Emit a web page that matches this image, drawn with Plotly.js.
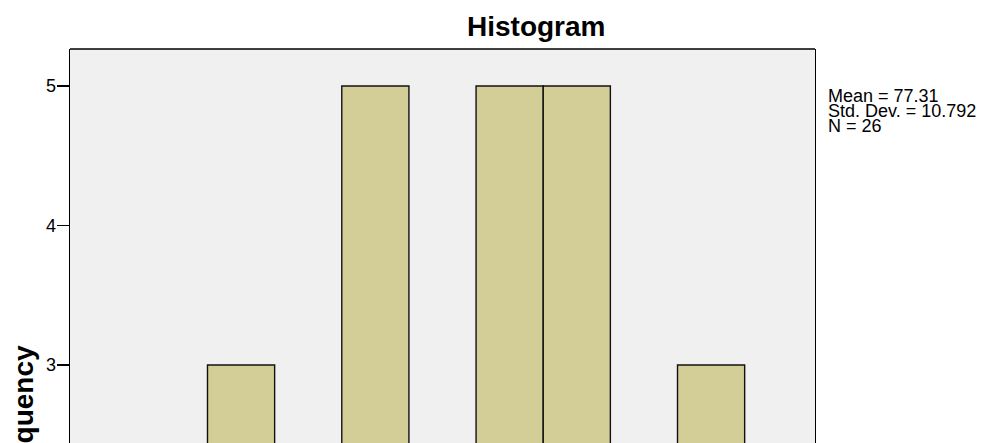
<!DOCTYPE html>
<html>
<head>
<meta charset="utf-8">
<script src="https://cdn.plot.ly/plotly-3.0.1.min.js"></script>
<style>html,body{margin:0;padding:0;background:#fff;overflow:hidden;}</style>
</head>
<body>
<div id="chart" style="width:990px;height:443px;"></div>
<script>
// Bin centers (bin width 5) and frequencies
const binCenters = [52.5, 57.5, 62.5, 67.5, 72.5, 77.5, 82.5, 87.5, 92.5, 97.5, 102.5];
const frequencies = [1, 1, 3, 2, 5, 1, 5, 5, 0, 3, 0];
const binWidth = 5;
const yTickVals = [0, 1, 2, 3, 4, 5];
const statsLines = ["Mean = 77.31", "Std. Dev. = 10.792", "N = 26"];
const chartTitle = "Histogram";
const yTitle = "Frequency";

const FONT = "Arial, 'Liberation Sans', sans-serif";
const L = 70, R = 175, T = 49, B = 0, W = 990, H = 443;
const plotW = W - L - R, plotH = H - T - B;
const px2paperX = p => (p - L) / plotW;
const px2paperY = p => (H - B - p) / plotH;

const trace = {
  type: 'bar',
  x: binCenters,
  y: frequencies,
  width: binCenters.map(() => binWidth),
  marker: { color: '#D3CE97', line: { color: '#111111', width: 1.4 } },
  hoverinfo: 'x+y'
};

const annotations = [
  { text: chartTitle, xref: 'paper', yref: 'paper', x: px2paperX(536), y: px2paperY(27),
    xanchor: 'center', yanchor: 'middle', showarrow: false,
    font: { family: FONT, size: 28, color: '#000', weight: 'bold' } },
  { text: yTitle, xref: 'paper', yref: 'paper', x: px2paperX(23), y: px2paperY(416),
    xanchor: 'center', yanchor: 'middle', textangle: -90, showarrow: false,
    font: { family: FONT, size: 28, color: '#000', weight: 'bold' } }
];
const centers = [96, 111, 126];
statsLines.forEach((t, i) => {
  annotations.push({ text: t, xref: 'paper', yref: 'paper', x: px2paperX(826), y: px2paperY(centers[i]),
    xanchor: 'left', yanchor: 'middle', showarrow: false,
    font: { family: FONT, size: 18, color: '#000' } });
});

const layout = {
  width: W, height: H,
  margin: { l: L, r: R, t: T, b: B, pad: 0 },
  paper_bgcolor: '#ffffff',
  plot_bgcolor: '#f0f0f0',
  bargap: 0,
  showlegend: false,
  xaxis: { range: [49.762, 105.238], showgrid: false, zeroline: false, showline: false,
    showticklabels: false, ticks: '' },
  yaxis: { range: [2.441, 5.265], tickvals: yTickVals, ticktext: yTickVals.map(String),
    showgrid: false, zeroline: false, showline: true, mirror: true, linecolor: '#000', linewidth: 1.4,
    ticks: 'outside', ticklen: 12, tickwidth: 1.8, tickcolor: '#000',
    tickfont: { family: FONT, size: 18, color: '#000' }, ticklabelstandoff: -3 },
  shapes: [
    { type: 'line', xref: 'paper', yref: 'paper', x0: 0, x1: 1, y0: 1, y1: 1,
      line: { color: '#000', width: 1.4 } }
  ],
  annotations: annotations
};

Plotly.newPlot('chart', [trace], layout, { displayModeBar: false, staticPlot: true });
</script>
</body>
</html>
